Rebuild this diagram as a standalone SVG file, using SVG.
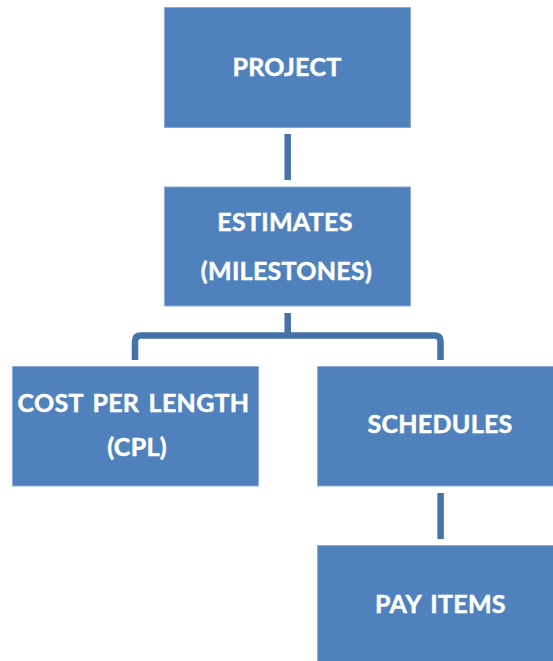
<svg xmlns="http://www.w3.org/2000/svg" width="553" height="661" viewBox="0 0 553 661">
<style>
.box{fill:#4F81BD;stroke:#8DA9D4;stroke-width:1}
.lbl{font-family:Lato,"Open Sans","Liberation Sans",sans-serif;font-weight:bold;font-size:25px;fill:#FFFFFF;stroke:#FFFFFF;stroke-width:0.5;text-anchor:middle;letter-spacing:0.3px;word-spacing:3px}
.conn{fill:none;stroke:#4672AA;stroke-width:6.5;stroke-linecap:butt;stroke-linejoin:round}
</style>
<rect width="553" height="661" fill="#FFFFFF"/>
<g id="connectors">
<path class="conn" d="M287.7 134 V180"/>
<path class="conn" d="M287.7 313 V335.5"/>
<path class="conn" d="M135 360 V341.5 Q135 335.5 141 335.5 H434.5 Q440.5 335.5 440.5 341.5 V360"/>
<path class="conn" d="M440.6 493 V539"/>
</g>
<g id="project">
<rect class="box" x="164.5" y="7.5" width="246" height="120"/>
<text class="lbl" x="287" y="76">PROJECT</text>
</g>
<g id="estimates">
<rect class="box" x="164.5" y="187" width="246" height="119"/>
<text class="lbl" x="285" y="231">ESTIMATES</text>
<text class="lbl" x="286.5" y="280">(MILESTONES)</text>
</g>
<g id="cpl">
<rect class="box" x="12.5" y="366.5" width="246" height="119.5"/>
<text class="lbl" x="133.5" y="412">COST PER LENGTH</text>
<text class="lbl" x="137" y="456">(CPL)</text>
</g>
<g id="schedules">
<rect class="box" x="317.5" y="366.5" width="250" height="119.5"/>
<text class="lbl" x="440" y="433">SCHEDULES</text>
</g>
<g id="payitems">
<rect class="box" x="317.5" y="545.5" width="250" height="130"/>
<text class="lbl" x="440.5" y="613">PAY ITEMS</text>
</g>
</svg>
